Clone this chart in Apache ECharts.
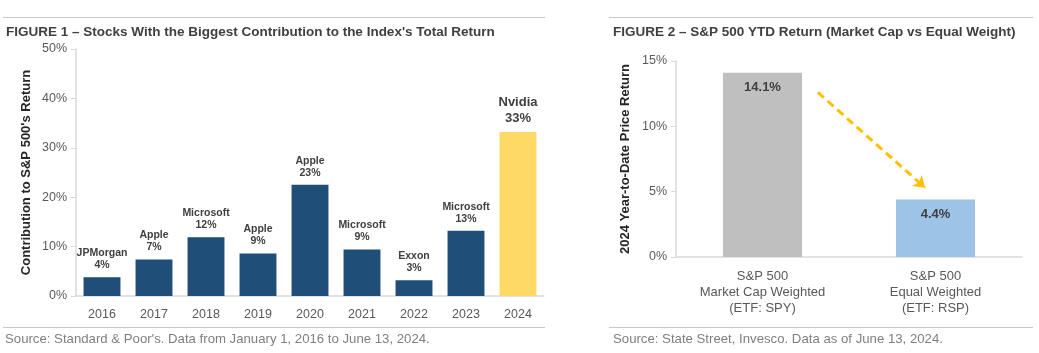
<!DOCTYPE html>
<html>
<head>
<meta charset="utf-8">
<script src="https://cdn.jsdelivr.net/npm/echarts@6/dist/echarts.min.js"></script>
<style>
html,body{margin:0;padding:0;background:#fff;}
#c{width:1039px;height:353px;}
</style>
</head>
<body>
<div id="c"></div>
<script>
// ---- Figure 1 data ----
const years = ['2016','2017','2018','2019','2020','2021','2022','2023','2024'];
const contribValues = [3.8, 7.4, 11.9, 8.6, 22.5, 9.4, 3.2, 13.2, 33.2];
const companies = ['JPMorgan','Apple','Microsoft','Apple','Apple','Microsoft','Exxon','Microsoft','Nvidia'];
const contribLabels = ['4%','7%','12%','9%','23%','9%','3%','13%','33%'];
const fig1Ticks = [0, 10, 20, 30, 40, 50];

// ---- Figure 2 data ----
const fig2Categories = ['S&P 500\nMarket Cap Weighted\n(ETF: SPY)', 'S&P 500\nEqual Weighted\n(ETF: RSP)'];
const fig2Values = [14.1, 4.4];
const fig2Labels = ['14.1%', '4.4%'];
const fig2Ticks = [0, 5, 10, 15];
const arrowStart = [0.82, 12.6];
const arrowEnd = [1.44, 5.3];

const FONT = '"Liberation Sans", Arial, sans-serif';
const NAVY = '#1F4E79', YELLOW = '#FFD966', GRAY_BAR = '#BFBFBF', BLUE_BAR = '#9DC3E6';
const AXIS = '#D9D9D9', TICKTXT = '#595959', DARK = '#404040';

const chart = echarts.init(document.getElementById('c'), null, {renderer: 'canvas'});

const option = {
  backgroundColor: '#fff',
  animation: false,
  textStyle: {fontFamily: FONT},
  title: [
    {text: 'FIGURE 1 – Stocks With the Biggest Contribution to the Index\'s Total Return', left: 1, top: 20,
     textStyle: {fontFamily: FONT, fontSize: 13.5, fontWeight: 'bold', color: DARK}},
    {text: 'FIGURE 2 – S&P 500 YTD Return (Market Cap vs Equal Weight)', left: 608, top: 20,
     textStyle: {fontFamily: FONT, fontSize: 13.5, fontWeight: 'bold', color: DARK}},
    {text: 'Source: Standard & Poor\'s. Data from January 1, 2016 to June 13, 2024.', left: 0, top: 328,
     textStyle: {fontFamily: FONT, fontSize: 13.2, fontWeight: 'normal', color: '#7F7F7F'}},
    {text: 'Source: State Street, Invesco. Data as of June 13, 2024.', left: 608, top: 328,
     textStyle: {fontFamily: FONT, fontSize: 13.2, fontWeight: 'normal', color: '#7F7F7F'}}
  ],
  graphic: [
    {type: 'line', shape: {x1: 3, y1: 17.5, x2: 545, y2: 17.5}, style: {stroke: '#C8C8C8', lineWidth: 1}},
    {type: 'line', shape: {x1: 609, y1: 17.5, x2: 1033, y2: 17.5}, style: {stroke: '#C8C8C8', lineWidth: 1}},
    {type: 'line', shape: {x1: 3, y1: 327.5, x2: 545, y2: 327.5}, style: {stroke: '#C8C8C8', lineWidth: 1}},
    {type: 'line', shape: {x1: 609, y1: 327.5, x2: 1033, y2: 327.5}, style: {stroke: '#C8C8C8', lineWidth: 1}}
  ],
  grid: [
    {left: 76, top: 49, width: 468, height: 247},
    {left: 676, top: 61, width: 346, height: 196}
  ],
  xAxis: [
    {type: 'category', gridIndex: 0, data: years,
     axisLine: {lineStyle: {color: AXIS, width: 1.5}}, axisTick: {show: false},
     axisLabel: {color: TICKTXT, fontSize: 12.5, margin: 12, fontFamily: FONT}},
    {type: 'category', gridIndex: 1, data: fig2Categories,
     axisLine: {lineStyle: {color: AXIS, width: 1.5}}, axisTick: {show: false},
     axisLabel: {color: TICKTXT, fontSize: 13, margin: 11, lineHeight: 16, fontFamily: FONT}},
    {type: 'value', gridIndex: 1, min: 0, max: 2, show: false}
  ],
  yAxis: [
    {type: 'value', gridIndex: 0, min: fig1Ticks[0], max: fig1Ticks[fig1Ticks.length - 1], interval: 10,
     axisLine: {show: true, lineStyle: {color: AXIS, width: 1.5}},
     axisTick: {show: true, length: 5, lineStyle: {color: AXIS}},
     splitLine: {show: false},
     axisLabel: {formatter: '{value}%', color: TICKTXT, fontSize: 12.5, margin: 9, fontFamily: FONT},
     name: 'Contribution to S&P 500\'s Return', nameLocation: 'middle', nameGap: 43,
     nameTextStyle: {fontFamily: FONT, fontSize: 13, fontWeight: 'bold', color: '#262626'}},
    {type: 'value', gridIndex: 1, min: fig2Ticks[0], max: fig2Ticks[fig2Ticks.length - 1], interval: 5,
     axisLine: {show: true, lineStyle: {color: AXIS, width: 1.5}},
     axisTick: {show: true, length: 5, lineStyle: {color: AXIS}},
     splitLine: {show: false},
     axisLabel: {formatter: '{value}%', color: TICKTXT, fontSize: 12.5, margin: 9, fontFamily: FONT},
     name: '2024 Year-to-Date Price Return', nameLocation: 'middle', nameGap: 44,
     nameTextStyle: {fontFamily: FONT, fontSize: 13, fontWeight: 'bold', color: '#262626'}}
  ],
  series: [
    {type: 'bar', xAxisIndex: 0, yAxisIndex: 0, barWidth: '71%',
     data: contribValues.map((v, i) => ({
       value: v,
       itemStyle: {color: i === contribValues.length - 1 ? YELLOW : NAVY},
       label: {
         show: true, position: 'top', distance: 6,
         formatter: i === contribValues.length - 1
           ? '{nb|' + companies[i] + '}\n{vb|' + contribLabels[i] + '}'
           : '{n|' + companies[i] + '}\n{v|' + contribLabels[i] + '}',
         rich: {
           n: {fontFamily: FONT, fontSize: 10.5, fontWeight: 'bold', color: DARK, lineHeight: 12},
           v: {fontFamily: FONT, fontSize: 10.5, fontWeight: 'bold', color: DARK, lineHeight: 12},
           nb: {fontFamily: FONT, fontSize: 13, fontWeight: 'bold', color: DARK, lineHeight: 16},
           vb: {fontFamily: FONT, fontSize: 13, fontWeight: 'bold', color: DARK, lineHeight: 16}
         }
       }
     }))},
    {type: 'bar', xAxisIndex: 1, yAxisIndex: 1, barWidth: '45.7%',
     data: fig2Values.map((v, i) => ({
       value: v,
       itemStyle: {color: i === 0 ? GRAY_BAR : BLUE_BAR},
       label: {show: true, position: 'insideTop', distance: 8, formatter: fig2Labels[i],
               fontFamily: FONT, fontSize: 13, fontWeight: 'bold', color: DARK}
     }))},
    {type: 'lines', coordinateSystem: 'cartesian2d', xAxisIndex: 2, yAxisIndex: 1,
     symbol: ['none', 'arrow'], symbolSize: 11,
     lineStyle: {color: '#FFC000', width: 3, type: [8, 5], opacity: 1, curveness: 0},
     data: [{coords: [arrowStart, arrowEnd]}]}
  ]
};
chart.setOption(option);
</script>
</body>
</html>
